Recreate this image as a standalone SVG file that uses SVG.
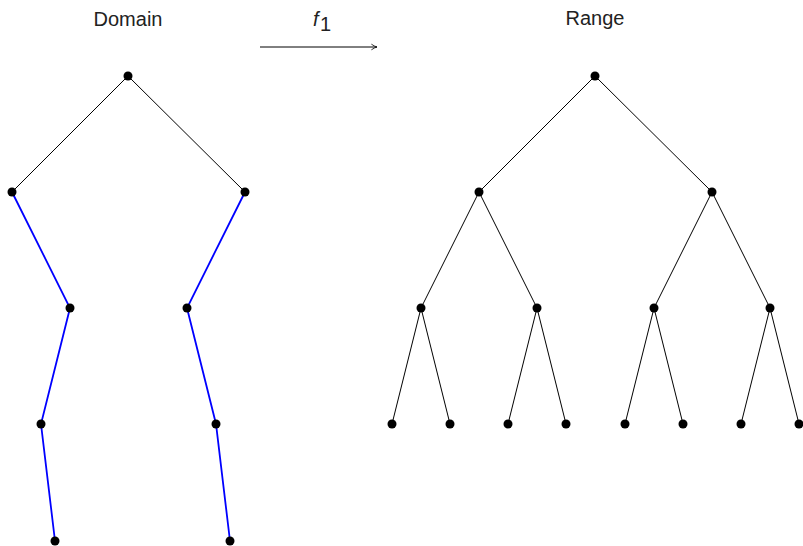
<svg xmlns="http://www.w3.org/2000/svg" width="803" height="546" viewBox="0 0 803 546">
<style>
.lbl{font-family:"Liberation Sans",Arial,sans-serif;font-size:20px;fill:#222}
.e{stroke:#000;stroke-width:1;fill:none}
.b{stroke:#0000ff;stroke-width:1.8;fill:none}
circle{fill:#000}
</style>
<defs>
<marker id="ah" viewBox="0 0 10 10" refX="9" refY="5" markerWidth="8" markerHeight="8" markerUnits="userSpaceOnUse" orient="auto">
<path d="M2,1.5 Q6,4.2 9,5 Q6,5.8 2,8.5" fill="none" stroke="#000" stroke-width="1"/>
</marker>
</defs>
<rect width="803" height="546" fill="#fff"/>
<text class="lbl" x="128" y="26" text-anchor="middle">Domain</text>
<text class="lbl" x="595" y="25" text-anchor="middle">Range</text>
<text class="lbl" x="313" y="26" font-size="22" font-style="italic">f</text>
<text class="lbl" x="320" y="31" font-size="14">1</text>
<g id="connectors">
<line x1="260" y1="47" x2="377" y2="47" class="e" marker-end="url(#ah)"/>
<path class="e" d="M128,76 L12,192 M128,76 L245,192"/>
<path class="b" d="M12,192 L70,308 L41,424 L55,541 M245,192 L187,308 L216,424 L230,541"/>
<path class="e" d="M595,76 L479,192 M595,76 L712,192 M479,192 L421,308 M479,192 L537,308 M712,192 L654,308 M712,192 L770,308 M421,308 L392,424 M421,308 L450,424 M537,308 L508,424 M537,308 L566,424 M654,308 L625,424 M654,308 L683,424 M770,308 L741,424 M770,308 L799,424"/>
</g>
<g id="d-root"><circle cx="128" cy="76" r="4.5"/></g>
<g id="d-l"><circle cx="12" cy="192" r="4.5"/></g>
<g id="d-r"><circle cx="245" cy="192" r="4.5"/></g>
<g id="d-l2"><circle cx="70" cy="308" r="4.5"/></g>
<g id="d-r2"><circle cx="187" cy="308" r="4.5"/></g>
<g id="d-l3"><circle cx="41" cy="424" r="4.5"/></g>
<g id="d-r3"><circle cx="216" cy="424" r="4.5"/></g>
<g id="d-l4"><circle cx="55" cy="541" r="4.5"/></g>
<g id="d-r4"><circle cx="230" cy="541" r="4.5"/></g>
<g id="r-root"><circle cx="595" cy="76" r="4.5"/></g>
<g id="r-1a"><circle cx="479" cy="192" r="4.5"/></g>
<g id="r-1b"><circle cx="712" cy="192" r="4.5"/></g>
<g id="r-2a"><circle cx="421" cy="308" r="4.5"/></g>
<g id="r-2b"><circle cx="537" cy="308" r="4.5"/></g>
<g id="r-2c"><circle cx="654" cy="308" r="4.5"/></g>
<g id="r-2d"><circle cx="770" cy="308" r="4.5"/></g>
<g id="r-3a"><circle cx="392" cy="424" r="4.5"/></g>
<g id="r-3b"><circle cx="450" cy="424" r="4.5"/></g>
<g id="r-3c"><circle cx="508" cy="424" r="4.5"/></g>
<g id="r-3d"><circle cx="566" cy="424" r="4.5"/></g>
<g id="r-3e"><circle cx="625" cy="424" r="4.5"/></g>
<g id="r-3f"><circle cx="683" cy="424" r="4.5"/></g>
<g id="r-3g"><circle cx="741" cy="424" r="4.5"/></g>
<g id="r-3h"><circle cx="799" cy="424" r="4.5"/></g>
</svg>
